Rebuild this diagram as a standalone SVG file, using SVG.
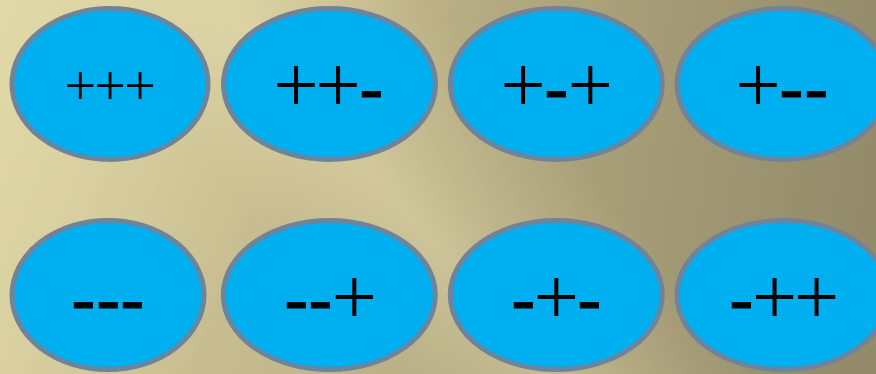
<svg xmlns="http://www.w3.org/2000/svg" width="876" height="374" viewBox="0 0 876 374">
  <defs>
    <linearGradient id="bgBase" x1="0" y1="0" x2="876" y2="120" gradientUnits="userSpaceOnUse">
      <stop offset="0" stop-color="#d6cc9c"/>
      <stop offset="0.4" stop-color="#c2b78b"/>
      <stop offset="0.7" stop-color="#a89e78"/>
      <stop offset="1" stop-color="#938b6a"/>
    </linearGradient>
    <linearGradient id="bgBand" x1="200" y1="320" x2="560" y2="0" gradientUnits="userSpaceOnUse">
      <stop offset="0.22" stop-color="#eee6b8" stop-opacity="0"/>
      <stop offset="0.47" stop-color="#eee6b8" stop-opacity="0.4"/>
      <stop offset="0.6" stop-color="#eee6b8" stop-opacity="0.2"/>
      <stop offset="0.8" stop-color="#eee6b8" stop-opacity="0"/>
    </linearGradient>
    <linearGradient id="bgTop" x1="0" y1="0" x2="300" y2="200" gradientUnits="userSpaceOnUse">
      <stop offset="0" stop-color="#ebe2b0" stop-opacity="0.6"/>
      <stop offset="1" stop-color="#ebe2b0" stop-opacity="0"/>
    </linearGradient>
  </defs>
  <style>
    .node ellipse { fill: #00aff0; stroke: #6d859c; stroke-width: 5; }
    .lbl { fill: #000000; text-anchor: middle; }
    .p { font-family: "Liberation Serif", "Times New Roman", serif; font-size: 80px; }
    .ps { font-family: "Liberation Serif", "Times New Roman", serif; font-size: 56px; }
    .m { font-family: "DejaVu Sans", sans-serif; font-size: 70px; stroke: #000000; stroke-width: 0.8px; }
  </style>
  <rect x="0" y="0" width="876" height="374" fill="url(#bgBase)"/>
  <rect x="0" y="0" width="876" height="374" fill="url(#bgBand)"/>
  <rect x="0" y="0" width="876" height="374" fill="url(#bgTop)"/>

  <g id="node-ppp" class="node">
    <ellipse cx="110" cy="84" rx="98" ry="75.5"/>
    <text class="lbl ps" y="104.5"><tspan x="80.2">+</tspan><tspan x="110">+</tspan><tspan x="140">+</tspan></text>
  </g>
  <g id="node-ppm" class="node">
    <ellipse cx="329.5" cy="84" rx="106" ry="75.5"/>
    <text class="lbl"><tspan class="p" x="296" y="112">+</tspan><tspan class="p" x="338" y="112">+</tspan><tspan class="m" x="371.5" y="113">-</tspan></text>
  </g>
  <g id="node-pmp" class="node">
    <ellipse cx="556.3" cy="84" rx="106" ry="75.5"/>
    <text class="lbl"><tspan class="p" x="523" y="112">+</tspan><tspan class="m" x="556.5" y="113">-</tspan><tspan class="p" x="590.2" y="112">+</tspan></text>
  </g>
  <g id="node-pmm" class="node">
    <ellipse cx="783" cy="84" rx="106" ry="75.5"/>
    <text class="lbl"><tspan class="p" x="758" y="112">+</tspan><tspan class="m" x="791.5" y="113">-</tspan><tspan class="m" x="816.5" y="113">-</tspan></text>
  </g>
  <g id="node-mmm" class="node">
    <ellipse cx="108" cy="295" rx="96" ry="74.5"/>
    <text class="lbl m" y="324"><tspan x="83.5">-</tspan><tspan x="108.5">-</tspan><tspan x="132.5">-</tspan></text>
  </g>
  <g id="node-mmp" class="node">
    <ellipse cx="329.3" cy="295" rx="106" ry="74.5"/>
    <text class="lbl"><tspan class="m" x="296.5" y="324">-</tspan><tspan class="m" x="320.5" y="324">-</tspan><tspan class="p" x="354.3" y="323.5">+</tspan></text>
  </g>
  <g id="node-mpm" class="node">
    <ellipse cx="556.3" cy="295" rx="106" ry="74.5"/>
    <text class="lbl"><tspan class="m" x="523.5" y="324">-</tspan><tspan class="p" x="556.3" y="323.5">+</tspan><tspan class="m" x="589.5" y="324">-</tspan></text>
  </g>
  <g id="node-mpp" class="node">
    <ellipse cx="783" cy="295" rx="106" ry="74.5"/>
    <text class="lbl"><tspan class="m" x="741.5" y="324">-</tspan><tspan class="p" x="774.5" y="323.5">+</tspan><tspan class="p" x="816.5" y="323.5">+</tspan></text>
  </g>
  <g id="connectors"/>
</svg>
